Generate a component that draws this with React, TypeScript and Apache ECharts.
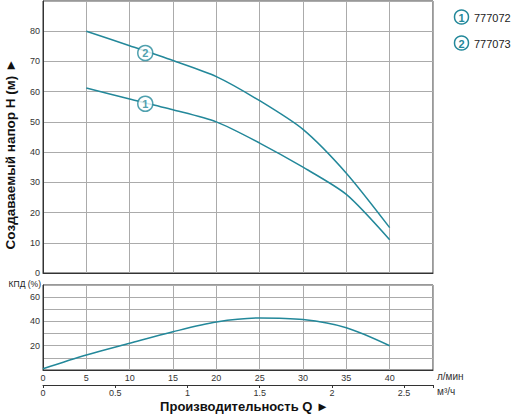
import React, { useEffect, useRef } from "react";
import * as echarts from "echarts";

// flow in l/min, head in metres, efficiency in %
const flowLpm = [5, 10, 15, 20, 25, 30, 35, 40];
const head777072 = [61.2, 57.6, 54, 50, 43, 35, 26, 11];
const head777073 = [80, 75.2, 70.3, 65, 57, 47.5, 33, 15];
const effFlow = [0, 5, 10, 15, 20, 25, 30, 35, 40];
const efficiency = [1, 12.3, 22, 31.5, 39.5, 42.8, 41.5, 34.8, 20];
const models = ["777072", "777073"];
const curveLabels = [
  [11.8, 56],
  [11.8, 72.8],
];

const TEAL = "#23889a";
const FONT = "Liberation Sans";

export default function App() {
  const chartRef = useRef<HTMLDivElement>(null);

  useEffect(() => {
    document.body.style.margin = "0";
    if (!chartRef.current) return;
    const chart = echarts.init(chartRef.current, undefined, { renderer: "svg" });

    const pair = (xs: number[], ys: number[]) => xs.map((x, i) => [x, ys[i]]);
    const hideEnd = (max: number) => (v: number) => (v === max ? "" : String(v));
    const tickLabel = { fontSize: 9, color: "#333", fontFamily: FONT };
    const grid = { color: "#ababab", width: 1 };

    const option = {
      animation: false,
      textStyle: { fontFamily: FONT },
      grid: [
        { left: 43, top: 1, width: 390, height: 272, show: true, borderColor: "#333", borderWidth: 1 },
        { left: 43, top: 285, width: 390, height: 85, show: true, borderColor: "#333", borderWidth: 1 },
      ],
      xAxis: [
        {
          gridIndex: 0, type: "value", min: 0, max: 45, interval: 5,
          axisLabel: { show: false }, axisTick: { show: false },
          axisLine: { lineStyle: { color: "#333" } },
          splitLine: { lineStyle: grid },
        },
        {
          gridIndex: 1, type: "value", min: 0, max: 45, interval: 5,
          axisLabel: { ...tickLabel, margin: 3, formatter: hideEnd(45) },
          axisTick: { show: false },
          axisLine: { lineStyle: { color: "#333" } },
          splitLine: { lineStyle: grid },
          name: "л/мин", nameLocation: "end", nameGap: 4,
          nameTextStyle: { fontSize: 10, color: "#333", align: "left", verticalAlign: "top", padding: [1, 0, 0, 0] },
        },
        {
          gridIndex: 1, type: "value", min: 0, max: 2.7, interval: 0.5,
          position: "bottom", offset: 15,
          axisLabel: { ...tickLabel, margin: 3, formatter: hideEnd(2.7) },
          axisTick: { show: true, length: 3, lineStyle: { color: "#333" } },
          axisLine: { lineStyle: { color: "#333" } },
          splitLine: { show: false },
          name: "м³/ч", nameLocation: "end", nameGap: 4,
          nameTextStyle: { fontSize: 10, color: "#333", align: "left", verticalAlign: "top", padding: [1, 0, 0, 0] },
        },
      ],
      yAxis: [
        {
          gridIndex: 0, type: "value", min: 0, max: 90, interval: 10,
          axisLabel: { ...tickLabel, margin: 3, formatter: hideEnd(90) },
          axisTick: { show: false },
          axisLine: { show: true, lineStyle: { color: "#333" } },
          splitLine: { lineStyle: grid },
        },
        {
          gridIndex: 1, type: "value", min: 0, max: 70, interval: 10,
          axisLabel: {
            ...tickLabel, margin: 3,
            formatter: (v: number) => (v > 0 && v % 20 === 0 ? String(v) : ""),
          },
          axisTick: { show: false },
          axisLine: { show: true, lineStyle: { color: "#333" } },
          splitLine: { lineStyle: grid },
          name: "КПД (%)", nameLocation: "end", nameGap: 1,
          nameTextStyle: {
            fontSize: 8.5, lineHeight: 9, color: "#222", align: "right", verticalAlign: "middle",
            padding: [0, 2, 0, 0],
          },
        },
      ],
      series: [
        {
          name: models[0], type: "line", xAxisIndex: 0, yAxisIndex: 0,
          data: pair(flowLpm, head777072), smooth: 0.25, showSymbol: false,
          lineStyle: { color: TEAL, width: 1.5 },
        },
        {
          name: models[1], type: "line", xAxisIndex: 0, yAxisIndex: 0,
          data: pair(flowLpm, head777073), smooth: 0.25, showSymbol: false,
          lineStyle: { color: TEAL, width: 1.5 },
        },
        {
          name: "КПД", type: "line", xAxisIndex: 1, yAxisIndex: 1,
          data: pair(effFlow, efficiency), smooth: 0.3, showSymbol: false,
          lineStyle: { color: TEAL, width: 1.5 },
        },
        {
          type: "scatter", xAxisIndex: 0, yAxisIndex: 0, z: 5,
          data: curveLabels.map((p, i) => ({ value: p, name: String(i + 1) })),
          symbolSize: 15,
          itemStyle: { color: "#fff", borderColor: TEAL, borderWidth: 1.5 },
          label: {
            show: true, position: "inside", formatter: "{b}",
            color: TEAL, fontSize: 11, fontWeight: "bold",
          },
        },
      ],
      graphic: [
        ...models.flatMap((m, i) => [
          {
            type: "circle", x: 461.5, y: 17 + i * 26, z: 10,
            shape: { cx: 0, cy: 0, r: 7 },
            style: { fill: "#fff", stroke: TEAL, lineWidth: 1.5 },
          },
          {
            type: "text", x: 461.5, y: 17.5 + i * 26, z: 11,
            style: {
              text: String(i + 1), fill: TEAL, fontSize: 11, fontWeight: "bold", fontFamily: FONT,
              textAlign: "center", textVerticalAlign: "middle",
            },
          },
          {
            type: "text", x: 474, y: 17.5 + i * 26, z: 11,
            style: {
              text: m, fill: "#222", fontSize: 11, fontFamily: FONT,
              textAlign: "left", textVerticalAlign: "middle",
            },
          },
        ]),
        {
          type: "text", x: 10, y: 154, rotation: Math.PI / 2,
          style: {
            text: "Создаваемый напор H (м) ►", fill: "#111", fontSize: 13.5, fontWeight: "bold",
            fontFamily: FONT, textAlign: "center", textVerticalAlign: "middle",
          },
        },
        {
          type: "text", x: 244.5, y: 406.5,
          style: {
            text: "Производительность Q ►", fill: "#111", fontSize: 13, fontWeight: "bold",
            fontFamily: FONT, textAlign: "center", textVerticalAlign: "middle",
          },
        },
      ],
    };

    chart.setOption(option);
    return () => {
      chart.dispose();
    };
  }, []);

  return <div ref={chartRef} style={{ width: "512px", height: "415px" }} />;
}
